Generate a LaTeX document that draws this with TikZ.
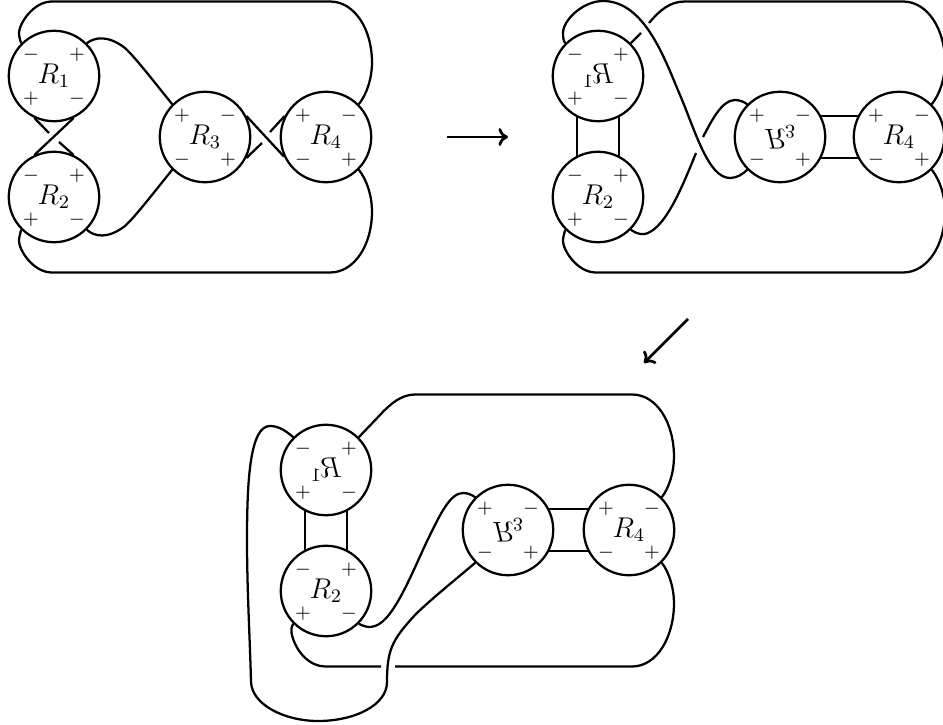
\documentclass[tikz,border=0pt]{standalone}
\usepackage{amsmath}
\usepackage{graphicx}
\usetikzlibrary{arrows.meta}
\tikzset{
	tangle/.style={shape=circle, draw, line width=0.95pt, minimum size=38pt, inner sep=0pt, font=\large},
	sign/.style={inner sep=0pt, font=\footnotesize},
	wire/.style={line width=0.95pt},
	flowarrow/.style={line width=1.15pt, -{Computer Modern Rightarrow[length=4pt, width=7.5pt]}},
}
\newcommand{\signs}[5]{
	\node[sign] (#1a) at ([shift={(-23,-21)}]#1.center){$#2$};
	\node[sign] (#1b) at ([shift={(23,-21)}]#1.center){$#3$};
	\node[sign] (#1c) at ([shift={(-23,23)}]#1.center){$#4$};
	\node[sign] (#1d) at ([shift={(23,23)}]#1.center){$#5$};
}
\begin{document}
\begin{tikzpicture}[x=0.42pt, y=-0.42pt]
	\useasboundingbox (0, 0) rectangle (943, 725);

	% Left tangle:
	\node[tangle] (A1) at (54, 76){$R_1$};
	\node[tangle] (A2) at (54, 197){$R_2$};
	\node[tangle] (A3) at (205, 137){$R_3$};
	\node[tangle] (A4) at (326, 137){$R_4$};
	\signs{A1}{-}{+}{+}{-}
	\signs{A2}{-}{+}{+}{-}
	\signs{A3}{+}{-}{-}{+}
	\signs{A4}{+}{-}{-}{+}
	\coordinate (a1) at (49, 133);
	\coordinate (a2) at (59, 142);
	\coordinate (a3) at (262, 143);
	\coordinate (a4) at (270, 132);
	\draw[wire] (A1.135) .. controls (20, 40) and (19, 36) .. (19, 33) .. controls (19, 24) and (33, 1.5) .. (52, 1.5) -- (330, 1.5) .. controls (355, 1.5) and (372, 30) .. (372, 62) .. controls (372, 78) and (367, 94) .. (A4.45);
	\draw[wire] (A2.225) .. controls (20, 234) and (19, 238) .. (19, 241) .. controls (19, 250) and (33, 272.5) .. (52, 272.5) -- (330, 272.5) .. controls (355, 272.5) and (372, 244) .. (372, 212) .. controls (372, 196) and (367, 180) .. (A4.315);
	\draw[wire] (A1.45) .. controls (95, 37) and (108, 35) .. (125, 48) .. controls (135, 57) and (155, 83) .. (A3.135);
	\draw[wire] (A2.315) .. controls (95, 237) and (108, 239) .. (125, 226) .. controls (135, 217) and (155, 191) .. (A3.225);
	\draw[wire] (A1.-65) -- (A2.115);
	\draw[wire] (A1.-115) -- (a1);
	\draw[wire] (A2.65) -- (a2);
	\draw[wire] (A3.27) -- (A4.205);
	\draw[wire] (A3.-27) -- (a3);
	\draw[wire] (A4.153) -- (a4);

	% Right tangle:
	\node[tangle] (B1) at (598, 76){\reflectbox{$R_1$}};
	\node[tangle] (B2) at (598, 197){$R_2$};
	\node[tangle] (B3) at (780, 137){\scalebox{1}[-1]{$R_3$}};
	\node[tangle] (B4) at (899, 137){$R_4$};
	\signs{B1}{-}{+}{+}{-}
	\signs{B2}{-}{+}{+}{-}
	\signs{B3}{+}{-}{-}{+}
	\signs{B4}{+}{-}{-}{+}
	\coordinate (b1) at (641, 33);
	\coordinate (b2) at (649, 23);
	\coordinate (b3) at (696, 153);
	\coordinate (b4) at (703, 137);
	\draw[wire] (B1.135) .. controls (563, 40) and (563, 36) .. (563, 33) .. controls (563, 20) and (583, 1) .. (603, 1) .. controls (645, 1) and (665, 60) .. (680, 95) .. controls (695, 130) and (708, 178) .. (730, 178) .. controls (737, 178) and (743, 174) .. (B3.225);
	\draw[wire] (B1.45) -- (b1);
	\draw[wire] (b2) .. controls (660, 10) and (670, 1.5) .. (685, 1.5) -- (903, 1.5) .. controls (928, 1.5) and (945, 30) .. (945, 62) .. controls (945, 78) and (940, 94) .. (B4.45);
	\draw[wire] (B2.225) .. controls (564, 234) and (563, 238) .. (563, 241) .. controls (563, 250) and (577, 272.5) .. (596, 272.5) -- (903, 272.5) .. controls (928, 272.5) and (945, 244) .. (945, 212) .. controls (945, 196) and (940, 180) .. (B4.315);
	\draw[wire] (B2.315) .. controls (637, 234) and (643, 236) .. (650, 232) .. controls (668, 222) and (683, 185) .. (b3);
	\draw[wire] (b4) .. controls (712, 120) and (722, 100) .. (735, 100) .. controls (740, 100) and (744, 102) .. (B3.135);
	\draw[wire] (B1.-117) -- (B2.117);
	\draw[wire] (B1.-63) -- (B2.63);
	\draw[wire] (B3.27) -- (B4.153);
	\draw[wire] (B3.-27) -- (B4.-153);

	% Lower tangle:
	\node[tangle] (C1) at (326, 470){\reflectbox{$R_1$}};
	\node[tangle] (C2) at (326, 591){$R_2$};
	\node[tangle] (C3) at (508, 530){\scalebox{1}[-1]{$R_3$}};
	\node[tangle] (C4) at (629, 530){$R_4$};
	\signs{C1}{-}{+}{+}{-}
	\signs{C2}{-}{+}{+}{-}
	\signs{C3}{+}{-}{-}{+}
	\signs{C4}{+}{-}{-}{+}
	\coordinate (c1) at (381, 666.5);
	\coordinate (c2) at (395, 666.5);
	\draw[wire] (C1.45) -- (380, 415) .. controls (391, 403) and (402, 394.5) .. (415, 394.5) -- (632, 394.5) .. controls (657, 394.5) and (674, 423) .. (674, 457) .. controls (674, 472) and (669, 488) .. (C4.45);
	\draw[wire] (C2.225) .. controls (291, 627) and (291, 632) .. (292, 635) .. controls (296, 652) and (310, 666.5) .. (325, 666.5) -- (c1);
	\draw[wire] (c2) -- (632, 666.5) .. controls (657, 666.5) and (674, 637) .. (674, 603) .. controls (674, 588) and (669, 572) .. (C4.315);
	\draw[wire] (C1.135) .. controls (285, 430) and (278, 426) .. (270, 426) .. controls (250, 426) and (247, 480) .. (247, 540) .. controls (247, 590) and (250, 640) .. (251, 682) .. controls (252, 705) and (285, 721) .. (318, 721) .. controls (355, 721) and (387, 705) .. (387, 682) .. controls (387, 650) and (392, 640) .. (415, 615) .. controls (430, 600) and (455, 580) .. (C3.225);
	\draw[wire] (C2.315) .. controls (365, 627) and (370, 628) .. (375, 626) .. controls (395, 620) and (415, 565) .. (430, 535) .. controls (440, 515) and (450, 493) .. (463, 493) .. controls (468, 493) and (472, 495) .. (C3.135);
	\draw[wire] (C1.-117) -- (C2.117);
	\draw[wire] (C1.-63) -- (C2.63);
	\draw[wire] (C3.27) -- (C4.153);
	\draw[wire] (C3.-27) -- (C4.-153);

	% Arrows between the tangles:
	\coordinate (p1) at (447, 137);
	\coordinate (p2) at (508, 137);
	\coordinate (p3) at (688, 319);
	\coordinate (p4) at (644, 363);
	\draw[flowarrow] (p1) -- (p2);
	\draw[flowarrow] (p3) -- (p4);
\end{tikzpicture}
\end{document}
